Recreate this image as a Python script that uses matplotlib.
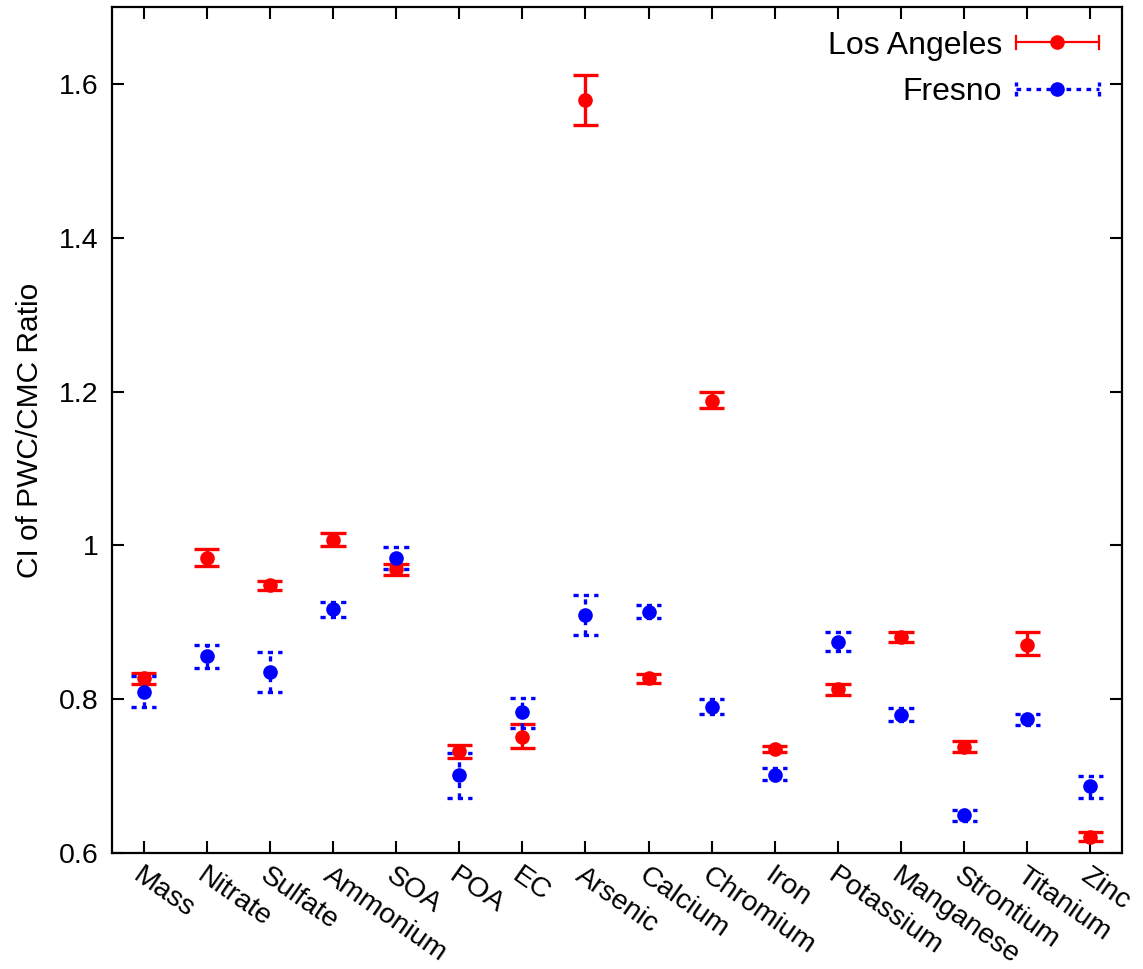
import numpy as np
import matplotlib
matplotlib.use("Agg")
import matplotlib.pyplot as plt
from matplotlib.lines import Line2D
from matplotlib.legend_handler import HandlerBase

plt.rcParams["font.family"] = ["Liberation Sans", "DejaVu Sans"]
plt.rcParams["font.size"] = 20.5

# Species measured at each site
categories = ["Mass", "Nitrate", "Sulfate", "Ammonium", "SOA", "POA", "EC",
              "Arsenic", "Calcium", "Chromium", "Iron", "Potassium",
              "Manganese", "Strontium", "Titanium", "Zinc"]

# Los Angeles: central ratio with lower/upper confidence bounds
la_mid = [0.827, 0.984, 0.948, 1.007, 0.969, 0.733, 0.751, 1.579, 0.827,
          1.188, 0.735, 0.813, 0.881, 0.738, 0.871, 0.621]
la_low = [0.820, 0.973, 0.942, 0.999, 0.962, 0.723, 0.736, 1.547, 0.821,
          1.178, 0.731, 0.805, 0.874, 0.731, 0.857, 0.615]
la_high = [0.834, 0.995, 0.954, 1.016, 0.976, 0.740, 0.768, 1.612, 0.833,
           1.199, 0.739, 0.820, 0.888, 0.745, 0.888, 0.627]

# Fresno: central ratio with lower/upper confidence bounds
fr_mid = [0.809, 0.856, 0.835, 0.917, 0.984, 0.701, 0.783, 0.909, 0.913,
          0.790, 0.702, 0.875, 0.780, 0.649, 0.774, 0.687]
fr_low = [0.790, 0.841, 0.809, 0.907, 0.969, 0.671, 0.763, 0.884, 0.906,
          0.781, 0.695, 0.863, 0.771, 0.641, 0.767, 0.672]
fr_high = [0.830, 0.871, 0.861, 0.927, 0.998, 0.730, 0.802, 0.935, 0.923,
           0.800, 0.710, 0.887, 0.789, 0.656, 0.781, 0.700]

series = [
    ("Los Angeles", la_mid, la_low, la_high, "#ff0000", "-"),
    ("Fresno", fr_mid, fr_low, fr_high, "#0000ff", (0, (1.55, 1.55))),
]

LW = 2.4
CAP_HALF = 0.2

fig = plt.figure(figsize=(11.43, 9.69), dpi=100)
ax = fig.add_axes([0.098, 0.1197, 0.8836, 0.8731])

x = np.arange(len(categories))

for name, mid, low, high, color, ls in series:
    mid = np.asarray(mid)
    low = np.asarray(low)
    high = np.asarray(high)
    eb = ax.errorbar(x, mid, yerr=[mid - low, high - mid], fmt="o",
                     color=color, ms=9.5, elinewidth=LW, capsize=0)
    eb[2][0].set_linestyle(ls)
    ax.hlines(low, x - CAP_HALF, x + CAP_HALF, colors=color, lw=LW,
              linestyles=[ls])
    ax.hlines(high, x - CAP_HALF, x + CAP_HALF, colors=color, lw=LW,
              linestyles=[ls])


class HorizontalErrorHandler(HandlerBase):
    """Legend key: horizontal bar with end caps and a centre dot."""

    def __init__(self, color, ls, lw):
        super().__init__()
        self.color = color
        self.ls = ls
        self.lw = lw

    def create_artists(self, legend, orig_handle, xdescent, ydescent,
                       width, height, fontsize, trans):
        y = height / 2 - ydescent
        x0 = -xdescent
        x1 = x0 + width
        h = 4.8
        arts = [
            Line2D([x0, x1], [y, y], color=self.color, lw=self.lw,
                   linestyle=self.ls),
            Line2D([x0, x0], [y - h, y + h], color=self.color, lw=self.lw,
                   linestyle=self.ls),
            Line2D([x1, x1], [y - h, y + h], color=self.color, lw=self.lw,
                   linestyle=self.ls),
            Line2D([(x0 + x1) / 2], [y], color=self.color, marker="o",
                   ms=9.5, linestyle="none"),
        ]
        for a in arts:
            a.set_transform(trans)
        return arts


h_la = Line2D([], [], color="#ff0000")
h_fr = Line2D([], [], color="#0000ff")
ax.legend([h_la, h_fr], ["Los Angeles", "Fresno"],
          handler_map={h_la: HorizontalErrorHandler("#ff0000", "-", 1.6),
                       h_fr: HorizontalErrorHandler("#0000ff", (0, (1.4, 1.6)), 2.4)},
          loc="upper right", bbox_to_anchor=(0.977, 0.972), frameon=False,
          markerfirst=False, handlelength=2.6, handletextpad=0.42,
          labelspacing=0.52, borderpad=0, borderaxespad=0, fontsize=23)

ax.set_xlim(-0.5, 15.5)
ax.set_ylim(0.6, 1.7)
ax.set_xticks(x)
ax.set_xticklabels(categories, rotation=-35, ha="left", va="top",
                   rotation_mode="anchor")
ax.set_yticks([0.6, 0.8, 1.0, 1.2, 1.4, 1.6])
ax.set_yticklabels(["0.6", "0.8", "1", "1.2", "1.4", "1.6"])
ax.tick_params(direction="in", length=8.4, width=1.5, top=True, right=True,
               labeltop=False, labelright=False)
ax.tick_params(axis="y", pad=9.5)
ax.tick_params(axis="x", pad=7)
for sp in ax.spines.values():
    sp.set_linewidth(1.6)

ax.set_ylabel("CI of PWC/CMC Ratio", fontsize=21.5)
ax.yaxis.set_label_coords(-0.067, 0.5)

fig.savefig("out.png", dpi=100)
